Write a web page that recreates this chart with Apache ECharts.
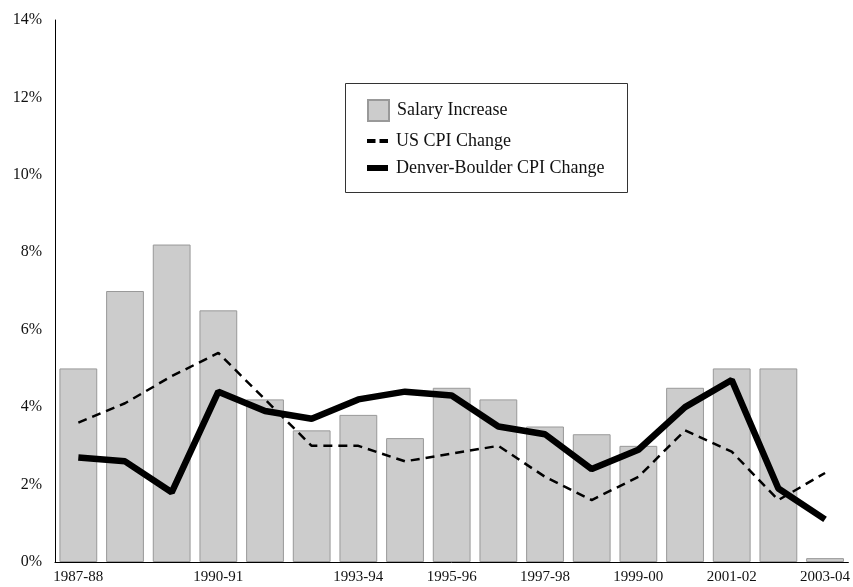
<!DOCTYPE html>
<html>
<head>
<meta charset="utf-8">
<script src="https://cdn.jsdelivr.net/npm/echarts@6/dist/echarts.min.js"></script>
<style>html,body{margin:0;padding:0;background:#fff}#c{width:853px;height:587px}</style>
</head>
<body>
<div id="c"></div>
<script>
const categories = ['1987-88','1988-89','1989-90','1990-91','1991-92','1992-93','1993-94','1994-95','1995-96','1996-97','1997-98','1998-99','1999-00','2000-01','2001-02','2002-03','2003-04'];
const shownLabels = ['1987-88','1990-91','1993-94','1995-96','1997-98','1999-00','2001-02','2003-04'];
const salaryIncrease = [5.0, 7.0, 8.2, 6.5, 4.2, 3.4, 3.8, 3.2, 4.5, 4.2, 3.5, 3.3, 3.0, 4.5, 5.0, 5.0, 0.1];
const usCPI = [3.6, 4.1, 4.8, 5.4, 4.2, 3.0, 3.0, 2.6, 2.8, 3.0, 2.2, 1.6, 2.2, 3.4, 2.85, 1.6, 2.3];
const denverCPI = [2.7, 2.6, 1.8, 4.4, 3.9, 3.7, 4.2, 4.4, 4.3, 3.5, 3.3, 2.4, 2.9, 4.0, 4.7, 1.9, 1.1];
const yTicks = [0, 2, 4, 6, 8, 10, 12, 14];
const seriesNames = ['Salary Increase', 'US CPI Change', 'Denver-Boulder CPI Change'];

const font = 'Liberation Serif';
const legendText = { fontFamily: font, fontSize: 18, color: '#111', lineHeight: 20, padding: [0, 0, 0, 3] };
const chart = echarts.init(document.getElementById('c'));
chart.setOption({
  animation: false,
  textStyle: { fontFamily: font },
  grid: { left: 55, right: 3, top: 20, bottom: 25, containLabel: false },
  graphic: [{
    type: 'rect', left: 345, top: 83, z: 0,
    shape: { width: 282, height: 109 },
    style: { fill: '#fff', stroke: '#333', lineWidth: 1 }
  }],
  legend: [
    {
      left: 367, top: 99, padding: 0, selectedMode: false,
      itemWidth: 21, itemHeight: 21,
      textStyle: legendText,
      data: [{ name: seriesNames[0], icon: 'rect' }]
    },
    {
      left: 367, top: 131, padding: 0, selectedMode: false,
      itemWidth: 21, itemHeight: 4,
      textStyle: legendText,
      data: [{ name: seriesNames[1], icon: 'path://M0,0h8.5v4h-8.5z M12.5,0h8.5v4h-8.5z', itemStyle: { color: '#000', borderWidth: 0 } }]
    },
    {
      left: 367, top: 158, padding: 0, selectedMode: false,
      itemWidth: 21, itemHeight: 6,
      textStyle: legendText,
      data: [{ name: seriesNames[2], icon: 'rect', itemStyle: { color: '#000', borderWidth: 0 } }]
    }
  ],
  xAxis: {
    type: 'category',
    data: categories,
    axisLine: { lineStyle: { color: '#000', width: 1 } },
    axisTick: { show: false },
    axisLabel: {
      interval: (i, v) => shownLabels.includes(v),
      color: '#111', fontFamily: font, fontSize: 15, margin: 8
    }
  },
  yAxis: {
    type: 'value', min: yTicks[0], max: yTicks[yTicks.length - 1], interval: 2,
    axisLine: { show: true, lineStyle: { color: '#000', width: 1 } },
    axisTick: { show: false },
    splitLine: { show: false },
    axisLabel: { formatter: v => v + '%', color: '#111', fontFamily: font, fontSize: 16, margin: 13 }
  },
  series: [
    {
      name: seriesNames[0], type: 'bar', data: salaryIncrease,
      barCategoryGap: '19%',
      itemStyle: { color: '#cccccc', borderColor: '#999', borderWidth: 1 }
    },
    {
      name: seriesNames[1], type: 'line', data: usCPI,
      symbol: 'none',
      lineStyle: { color: '#000', width: 2.5, type: [9, 6] },
      itemStyle: { color: '#000' }
    },
    {
      name: seriesNames[2], type: 'line', data: denverCPI,
      symbol: 'none',
      lineStyle: { color: '#000', width: 6.5 },
      itemStyle: { color: '#000' }
    }
  ]
});
</script>
</body>
</html>
